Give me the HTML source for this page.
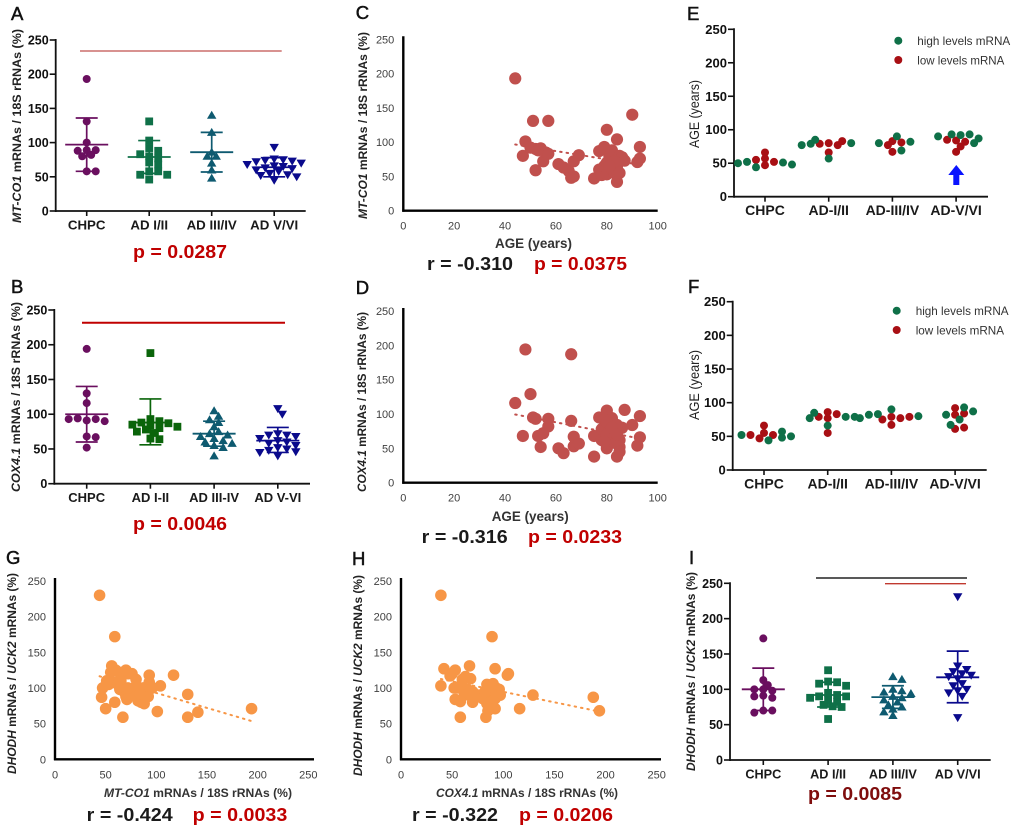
<!DOCTYPE html>
<html lang="en">
<head>
<meta charset="utf-8">
<title>mRNA levels panels A-I</title>
<style>
html,body{margin:0;padding:0;background:#fff;width:1020px;height:831px;overflow:hidden}
svg{display:block;filter:blur(0.35px);font-family:"Liberation Sans",sans-serif}
.letter{font-size:18.5px;fill:#111;stroke:#111;stroke-width:.5}
.ytitle{font-size:12px;fill:#222;font-weight:bold}
.xtitle{font-size:12px;fill:#333;font-weight:bold}
.stat{font-size:18px;font-weight:bold}
.r{fill:#1a1a1a}
.p{fill:#c00000}
.leg{font-size:11.7px;fill:#333}
</style>
</head>
<body>
<svg id="figure" xmlns="http://www.w3.org/2000/svg" width="1020" height="831" viewBox="0 0 1020 831">
<rect width="1020" height="831" fill="#fff"/>

<g id="panelA">
<text class="letter" x="11" y="20">A</text>
<text class="ytitle" transform="translate(21,223) rotate(-90)" textLength="194" lengthAdjust="spacingAndGlyphs"><tspan font-style="italic">MT-CO1</tspan> mRNAs / 18S rRNAs (%)</text>
<line x1="80" x2="281.7" y1="51" y2="51" stroke="#c0504d" stroke-width="1.3"/>
<text class="stat p" x="133" y="258" textLength="94" lengthAdjust="spacingAndGlyphs">p = 0.0287</text>
</g>

<g id="panelB">
<text class="letter" x="11" y="293">B</text>
<text class="ytitle" transform="translate(20,492) rotate(-90)" textLength="190" lengthAdjust="spacingAndGlyphs"><tspan font-style="italic">COX4.1</tspan> mRNAs / 18S rRNAs (%)</text>
<line x1="82" x2="285" y1="322.7" y2="322.7" stroke="#c00000" stroke-width="2"/>
<text class="stat p" x="133" y="530" textLength="94" lengthAdjust="spacingAndGlyphs">p = 0.0046</text>
</g>

<g id="panelC">
<text class="letter" x="355.7" y="19">C</text>
<text class="ytitle" transform="translate(367,219) rotate(-90)" textLength="187" lengthAdjust="spacingAndGlyphs"><tspan font-style="italic">MT-CO1</tspan> mRNAs / 18S rRNAs (%)</text>
<text class="xtitle" x="495" y="248" style="font-size:13.5px" textLength="77" lengthAdjust="spacingAndGlyphs">AGE (years)</text>
<text class="stat r" x="427" y="270" textLength="86" lengthAdjust="spacingAndGlyphs">r = -0.310</text>
<text class="stat p" x="534" y="270" textLength="93" lengthAdjust="spacingAndGlyphs">p = 0.0375</text>
</g>

<g id="panelD">
<text class="letter" x="355.7" y="294">D</text>
<text class="ytitle" transform="translate(366,492) rotate(-90)" textLength="180" lengthAdjust="spacingAndGlyphs"><tspan font-style="italic">COX4.1</tspan> mRNAs / 18S rRNAs (%)</text>
<text class="xtitle" x="491.7" y="521" style="font-size:13.5px" textLength="77" lengthAdjust="spacingAndGlyphs">AGE (years)</text>
<text class="stat r" x="421.7" y="543" textLength="86" lengthAdjust="spacingAndGlyphs">r = -0.316</text>
<text class="stat p" x="528" y="543" textLength="94" lengthAdjust="spacingAndGlyphs">p = 0.0233</text>
</g>

<g id="panelE">
<text class="letter" x="687" y="20">E</text>
<text class="ytitle" transform="translate(699,148) rotate(-90)" style="font-weight:normal;font-size:14px" textLength="68" lengthAdjust="spacingAndGlyphs">AGE (years)</text>
<circle cx="898.3" cy="40.7" r="4" fill="#0f7048"/>
<text class="leg" x="917.3" y="45">high levels mRNA</text>
<circle cx="898.3" cy="60" r="4" fill="#a80f14"/>
<text class="leg" x="917.3" y="64.3" textLength="87" lengthAdjust="spacingAndGlyphs">low levels mRNA</text>
<polygon points="956.3,165 964.3,175 959.3,175 959.3,185 953.3,185 953.3,175 948.3,175" fill="#0a14ff"/>
</g>

<g id="panelF">
<text class="letter" x="688" y="293">F</text>
<text class="ytitle" transform="translate(699,420) rotate(-90)" style="font-weight:normal;font-size:14px" textLength="70" lengthAdjust="spacingAndGlyphs">AGE (years)</text>
<circle cx="896.7" cy="310.7" r="4" fill="#0f7048"/>
<text class="leg" x="915.7" y="315">high levels mRNA</text>
<circle cx="896.7" cy="330" r="4" fill="#a80f14"/>
<text class="leg" x="915.7" y="334.3">low levels mRNA</text>
</g>

<g id="panelG">
<text class="letter" x="6" y="564">G</text>
<text class="ytitle" transform="translate(16,774) rotate(-90)" textLength="201" lengthAdjust="spacingAndGlyphs"><tspan font-style="italic">DHODH</tspan> mRNAs / <tspan font-style="italic">UCK2</tspan> mRNAs (%)</text>
<text class="xtitle" x="104" y="797" textLength="188" lengthAdjust="spacingAndGlyphs"><tspan font-style="italic">MT-CO1</tspan> mRNAs / 18S rRNAs (%)</text>
<text class="stat r" x="86.7" y="821" textLength="86" lengthAdjust="spacingAndGlyphs">r = -0.424</text>
<text class="stat p" x="192.7" y="821" textLength="94.6" lengthAdjust="spacingAndGlyphs">p = 0.0033</text>
</g>

<g id="panelH">
<text class="letter" x="352" y="565">H</text>
<text class="ytitle" transform="translate(362,776) rotate(-90)" textLength="201" lengthAdjust="spacingAndGlyphs"><tspan font-style="italic">DHODH</tspan> mRNAs / <tspan font-style="italic">UCK2</tspan> mRNAs (%)</text>
<text class="xtitle" x="436" y="797" textLength="182" lengthAdjust="spacingAndGlyphs"><tspan font-style="italic">COX4.1</tspan> mRNAs / 18S rRNAs (%)</text>
<text class="stat r" x="412" y="821" textLength="86" lengthAdjust="spacingAndGlyphs">r = -0.322</text>
<text class="stat p" x="519" y="821" textLength="94" lengthAdjust="spacingAndGlyphs">p = 0.0206</text>
</g>

<g id="panelI">
<text class="letter" x="689" y="564">I</text>
<text class="ytitle" transform="translate(695,771) rotate(-90)" textLength="199" lengthAdjust="spacingAndGlyphs"><tspan font-style="italic">DHODH</tspan> mRNAs / <tspan font-style="italic">UCK2</tspan> mRNAs (%)</text>
<line x1="816" x2="967" y1="578" y2="578" stroke="#222" stroke-width="1.4"/>
<line x1="885" x2="966" y1="583.7" y2="583.7" stroke="#c0392f" stroke-width="1.3"/>
<text class="stat" fill="#7f0d0d" x="808" y="800" textLength="94" lengthAdjust="spacingAndGlyphs">p = 0.0085</text>
</g>
</svg>

<script>
// ---------- shared axis ticks ----------
const valueTicks = [0, 50, 100, 150, 200, 250];
const ageTicks = [0, 20, 40, 60, 80, 100];

// ---------- panel A ----------
const labelsA = ['CHPC', 'AD I/II', 'AD III/IV', 'AD V/VI'];
const chpcA = [131, 100, 89, 89, 82, 80, 88, 58, 58, 193];
const adIA = [131, 103, 80, 92, 88, 77, 83, 71, 68, 58, 58, 53, 53, 46];
const adIIIA = [140, 115, 86, 80, 80, 70, 60, 48];
const adVA = [93, 76, 66, 75, 74, 73, 72, 70, 68, 65, 63, 62, 60, 58, 55, 53, 52, 50, 45];
const meansA = [97, 79, 86, 64];
const upperA = [136, 103, 115, 78];
const lowerA = [58, 55, 57, 50];

// ---------- panel B ----------
const labelsB = ['CHPC', 'AD I-II', 'AD III-IV', 'AD V-VI'];
const chpcB = [194, 130, 116, 91, 93, 94, 90, 93, 68, 67, 52];
const adIB = [188, 93, 84, 90, 88, 87, 85, 82, 80, 78, 75, 73, 65, 64];
const adIIIB = [105, 97, 92, 88, 82, 75, 72, 70, 68, 65, 62, 60, 58, 55, 52, 40];
const adVB = [108, 100, 72, 70, 70, 68, 65, 62, 60, 58, 55, 52, 50, 48, 46, 45, 40];
const meansB = [100, 88, 72, 62];
const upperB = [140, 122, 90, 81];
const lowerB = [60, 56, 54, 45];

// ---------- panel C ----------
const agesC = [44, 51, 57, 90, 80, 84, 48, 47, 52, 93, 50, 52, 53, 54, 55, 56, 57, 61, 63, 65, 66, 67, 67, 69, 75, 77, 77, 79, 78, 79, 80, 80, 81, 82, 82, 83, 84, 84, 85, 85, 86, 87, 92, 93, 83, 81];
const mtco1C = [193, 131, 131, 140, 118, 104, 101, 80, 59, 93, 92, 90, 88, 91, 72, 85, 83, 68, 63, 58, 48, 50, 72, 81, 47, 60, 87, 93, 52, 65, 53, 70, 80, 88, 60, 55, 42, 65, 55, 80, 78, 73, 71, 76, 72, 65];

// ---------- panel D ----------
const agesD = [48, 66, 50, 44, 87, 80, 93, 52, 51, 57, 57, 66, 55, 53, 47, 54, 61, 63, 67, 67, 69, 75, 84, 77, 79, 82, 75, 78, 90, 93, 92, 86, 84, 80, 81, 80, 78, 85, 85, 82, 83, 80, 79, 82, 84, 85];
const cox41D = [194, 187, 129, 116, 106, 105, 97, 93, 95, 93, 82, 90, 72, 68, 68, 52, 50, 43, 67, 53, 57, 38, 38, 95, 92, 94, 68, 78, 84, 66, 54, 80, 84, 88, 75, 50, 62, 52, 62, 65, 58, 70, 60, 80, 70, 45];

// ---------- panel E ----------
const labelsE = ['CHPC', 'AD-I/II', 'AD-III/IV', 'AD-V/VI'];
const highE = [[44, 51, 52, 48, 50], [57, 85, 80, 79, 77], [90, 80, 82, 69], [80, 92, 93, 93, 90, 87]];
const lowE = [[66, 57, 52, 55, 47], [66, 80, 77, 79, 83], [67, 83, 81, 77], [67, 84, 82, 85, 75]];

// ---------- panel F ----------
const labelsF = ['CHPC', 'AD-I/II', 'AD-III/IV', 'AD-V/VI'];
const highF = [[44, 57, 52, 48, 50], [66, 79, 77, 79, 85], [90, 83, 82, 80, 77], [67, 93, 82, 87, 75]];
const lowF = [[66, 55, 52, 47, 52], [55, 86, 83, 77, 79], [67, 79, 77, 75, 79], [61, 92, 82, 84, 63]];

// ---------- panel G ----------
const mtco1G = [44, 59, 56, 60, 63, 55, 70, 72, 76, 80, 117, 93, 131, 141, 131, 194, 101, 67, 59, 50, 46, 47, 51, 53, 58, 62, 65, 64, 68, 70, 71, 75, 78, 80, 82, 85, 87, 88, 90, 92, 93, 96, 104, 84, 72];
const dhodhG = [230, 172, 131, 125, 122, 122, 125, 120, 120, 112, 118, 118, 91, 66, 59, 71, 67, 59, 80, 71, 87, 100, 110, 105, 108, 105, 110, 98, 95, 88, 84, 92, 100, 88, 82, 80, 100, 78, 90, 88, 108, 100, 103, 92, 100];

// ---------- panel H ----------
const cox41H = [39, 89, 42, 53, 50, 48, 67, 92, 105, 104, 39, 52, 60, 63, 68, 59, 55, 65, 70, 53, 58, 70, 73, 75, 84, 90, 93, 96, 97, 88, 92, 80, 84, 83, 58, 92, 85, 116, 129, 188, 194, 62, 66, 82, 90];
const dhodhH = [230, 172, 127, 125, 120, 117, 131, 127, 120, 118, 103, 100, 112, 116, 113, 105, 100, 98, 95, 84, 81, 80, 88, 90, 105, 106, 100, 98, 90, 92, 85, 85, 78, 59, 59, 71, 68, 71, 90, 87, 68, 90, 92, 95, 82];

// ---------- panel I ----------
const labelsI = ['CHPC', 'AD I/II', 'AD III/IV', 'AD V/VI'];
const chpcI = [172, 113, 106, 100, 98, 100, 91, 90, 88, 70, 70, 67];
const adII = [127, 111, 110, 108, 105, 95, 92, 90, 90, 88, 85, 82, 78, 76, 75, 58];
const adIIII = [118, 114, 100, 98, 96, 94, 90, 88, 85, 82, 78, 75, 72, 68, 63];
const adVI = [231, 133, 128, 125, 122, 120, 118, 115, 108, 105, 100, 98, 95, 90, 60];
const meansI = [100, 92, 89, 117];
const upperI = [130, 110, 105, 154];
const lowerI = [70, 75, 73, 81];

// ---------- drawing helpers ----------
const NS = 'http://www.w3.org/2000/svg';
function make(parent, tag, attrs) {
  const n = document.createElementNS(NS, tag);
  for (const k in attrs) n.setAttribute(k, attrs[k]);
  parent.appendChild(n);
  return n;
}
function linear(d0, d1, r0, r1) {
  return v => r0 + (v - d0) / (d1 - d0) * (r1 - r0);
}
function markerPoints(shape, x, y, s) {
  if (shape === 'up') return [[x, y - s * 1.1], [x + s * 1.15, y + s * 0.85], [x - s * 1.15, y + s * 0.85]];
  return [[x, y + s * 1.1], [x + s * 1.15, y - s * 0.85], [x - s * 1.15, y - s * 0.85]];
}
function drawMarker(g, shape, x, y, color) {
  let node;
  if (shape === 'circle') {
    node = make(g, 'circle', {cx: x, cy: y, r: 4, fill: color});
  } else if (shape === 'square') {
    node = make(g, 'rect', {x: x - 3.9, y: y - 3.9, width: 7.8, height: 7.8, fill: color});
  } else {
    node = make(g, 'polygon', {points: markerPoints(shape, x, y, 4.1).map(p => p.join(',')).join(' '), fill: color});
  }
  
  
}
// beeswarm: each value takes the nearest free horizontal slot
function swarm(values, yOf) {
  const placed = [];
  return values.map(v => {
    const y = yOf(v);
    for (let k = 0; k < 20; k++) {
      const off = (k % 2 ? 1 : -1) * Math.ceil(k / 2) * 4.5;
      if (placed.every(p => Math.hypot(p.x - off, p.y - y) >= 5.8)) {
        placed.push({x: off, y: y});
        return off;
      }
    }
    return 0;
  });
}
function drawDotAxes(g, box, labels, tickSize, catSize) {
  const yOf = linear(0, 250, box.y0, box.yTop);
  const axisY = make(g, 'line', {x1: box.x0, x2: box.x0, y1: box.yTop - 1, y2: box.y0 + 1, stroke: '#111', 'stroke-width': 1.8});
  
  
  const axisX = make(g, 'line', {x1: box.x0, x2: box.xEnd, y1: box.y0, y2: box.y0, stroke: '#111', 'stroke-width': 1.8});
  
  
  valueTicks.forEach(t => {
    const tick = make(g, 'line', {x1: box.x0 - 6, x2: box.x0, y1: yOf(t), y2: yOf(t), stroke: '#111', 'stroke-width': 1.6});
    
    
    const label = make(g, 'text', {x: box.x0 - 7, y: yOf(t) + 4.5, 'text-anchor': 'end', 'font-size': tickSize, 'font-weight': 'bold', fill: '#111'});
    label.textContent = t;
    
    
  });
  labels.forEach((name, i) => {
    const x = box.cat0 + i * box.catStep;
    const tick = make(g, 'line', {x1: x, x2: x, y1: box.y0, y2: box.y0 + 5, stroke: '#111', 'stroke-width': 1.6});
    
    
    const label = make(g, 'text', {x: x, y: box.y0 + 18.5, 'text-anchor': 'middle', 'font-size': catSize, 'font-weight': 'bold', fill: '#1a1a1a'});
    label.textContent = name;
    
    
  });
  return yOf;
}
function drawDotPanel(id, box, labels, groups, means, upper, lower, colors, shapes, tickSize, catSize) {
  const g = document.getElementById(id);
  const yOf = drawDotAxes(g, box, labels, tickSize, catSize);
  groups.forEach((values, i) => {
    const cx = box.cat0 + i * box.catStep;
    const c = colors[i];
    swarm(values, yOf).forEach((off, j) => drawMarker(g, shapes[i], cx + off, yOf(values[j]), c));
    const stem = make(g, 'line', {x1: cx, x2: cx, y1: yOf(upper[i]), y2: yOf(lower[i]), stroke: c, 'stroke-width': 1.7});
    
    
    const capTop = make(g, 'line', {x1: cx - 11, x2: cx + 11, y1: yOf(upper[i]), y2: yOf(upper[i]), stroke: c, 'stroke-width': 1.7});
    
    
    const capLow = make(g, 'line', {x1: cx - 11, x2: cx + 11, y1: yOf(lower[i]), y2: yOf(lower[i]), stroke: c, 'stroke-width': 1.7});
    
    
    const mean = make(g, 'line', {x1: cx - 21.5, x2: cx + 21.5, y1: yOf(means[i]), y2: yOf(means[i]), stroke: c, 'stroke-width': 1.8});
    
    
  });
}
function drawAgePanel(id, box, labels, high, low) {
  const g = document.getElementById(id);
  const yOf = drawDotAxes(g, box, labels, 13, 14);
  labels.forEach((_, i) => {
    const cx = box.cat0 + i * box.catStep;
    const all = low[i].concat(high[i]);
    swarm(all, yOf).forEach((off, j) => {
      const c = j < low[i].length ? '#a80f14' : '#0f7048';
      drawMarker(g, 'circle', cx + off, yOf(all[j]), c);
    });
  });
}
function fit(xs, ys) {
  const n = xs.length;
  const mx = xs.reduce((a, b) => a + b, 0) / n;
  const my = ys.reduce((a, b) => a + b, 0) / n;
  let num = 0, den = 0;
  xs.forEach((x, i) => { num += (x - mx) * (ys[i] - my); den += (x - mx) * (x - mx); });
  const slope = num / den;
  return x => my + slope * (x - mx);
}
function drawScatterPanel(id, box, xMax, xTicks, xs, ys, color, radius) {
  const g = document.getElementById(id);
  const xOf = linear(0, xMax, box.x0, box.x1);
  const yOf = linear(0, 250, box.y0, box.yTop);
  const line = fit(xs, ys);
  const lo = Math.min.apply(null, xs), hi = Math.max.apply(null, xs);
  const trend = make(g, 'line', {x1: xOf(lo), y1: yOf(line(lo)), x2: xOf(hi), y2: yOf(line(hi)), stroke: color, 'stroke-width': 2, 'stroke-dasharray': '1.5 5', 'stroke-linecap': 'round'});
  
  
  xs.forEach((x, i) => {
    const dot = make(g, 'circle', {cx: xOf(x), cy: yOf(ys[i]), r: radius, fill: color});
    
    
  });
  const axisY = make(g, 'line', {x1: box.x0, x2: box.x0, y1: box.yTop - 3, y2: box.y0 + 1, stroke: '#000', 'stroke-width': 2.4});
  
  
  const axisX = make(g, 'line', {x1: box.x0 - 1, x2: box.xEnd, y1: box.y0, y2: box.y0, stroke: '#000', 'stroke-width': 2.4});
  
  
  valueTicks.forEach(t => {
    const label = make(g, 'text', {x: box.x0 - 9, y: yOf(t) + 4, 'text-anchor': 'end', 'font-size': 11, fill: '#404040'});
    label.textContent = t;
    
    
  });
  xTicks.forEach(t => {
    const label = make(g, 'text', {x: xOf(t), y: box.y0 + 19, 'text-anchor': 'middle', 'font-size': 11, fill: '#404040'});
    label.textContent = t;
    
    
  });
}

// ---------- panels ----------
const lineupColors = ['#6a0f5f', '#0f7048', '#0e5a70', '#0a0a8c'];
const lineupColorsB = ['#6a0f5f', '#0a640a', '#0e5a70', '#0a0a8c'];
const lineupShapes = ['circle', 'square', 'up', 'down'];

drawDotPanel('panelA', {x0: 55.7, y0: 211, yTop: 40, xEnd: 305.7, cat0: 86.7, catStep: 62.5},
  labelsA, [chpcA, adIA, adIIIA, adVA], meansA, upperA, lowerA, lineupColors, lineupShapes, 12.5, 13.3);
drawDotPanel('panelB', {x0: 54.3, y0: 483.7, yTop: 310, xEnd: 310, cat0: 86.7, catStep: 63.7},
  labelsB, [chpcB, adIB, adIIIB, adVB], meansB, upperB, lowerB, lineupColorsB, lineupShapes, 12.5, 13);
drawDotPanel('panelI', {x0: 730, y0: 760, yTop: 583.3, xEnd: 990.7, cat0: 763.3, catStep: 64.8},
  labelsI, [chpcI, adII, adIIII, adVI], meansI, upperI, lowerI, lineupColors, lineupShapes, 12.5, 12.7);

drawAgePanel('panelE', {x0: 734, y0: 196.7, yTop: 29.3, xEnd: 988, cat0: 765, catStep: 63.7}, labelsE, highE, lowE);
drawAgePanel('panelF', {x0: 732.7, y0: 470, yTop: 301.7, xEnd: 986.7, cat0: 764, catStep: 63.7}, labelsF, highF, lowF);

drawScatterPanel('panelC', {x0: 403.3, x1: 657.7, xEnd: 657.7, y0: 210.7, yTop: 39.3}, 100, ageTicks, agesC, mtco1C, '#c0504d', 6.1);
drawScatterPanel('panelD', {x0: 403.3, x1: 657.7, xEnd: 657.7, y0: 482.7, yTop: 311}, 100, ageTicks, agesD, cox41D, '#c0504d', 6.1);
drawScatterPanel('panelG', {x0: 55, x1: 308.3, xEnd: 314, y0: 759.3, yTop: 581}, 250, valueTicks, mtco1G, dhodhG, '#f79646', 5.8);
drawScatterPanel('panelH', {x0: 401, x1: 656.7, xEnd: 661, y0: 759.3, yTop: 581}, 250, valueTicks, cox41H, dhodhH, '#f79646', 5.8);
</script>
</body>
</html>
